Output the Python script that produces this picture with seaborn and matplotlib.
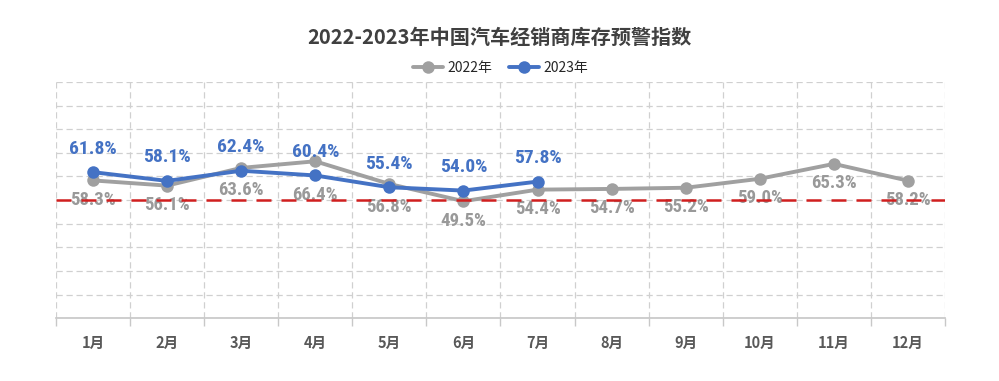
import pandas as pd
import matplotlib.pyplot as plt
import seaborn as sns
from matplotlib import font_manager

months = ["1月", "2月", "3月", "4月", "5月", "6月", "7月", "8月", "9月", "10月", "11月", "12月"]
values_2022 = [58.3, 56.1, 63.6, 66.4, 56.8, 49.5, 54.4, 54.7, 55.2, 59.0, 65.3, 58.2]
values_2023 = [61.8, 58.1, 62.4, 60.4, 55.4, 54.0, 57.8]
warning_line = 50

sns.set_theme(style="white")
plt.rcParams["font.family"] = ["Noto Sans CJK SC", "DejaVu Sans"]

# narrow font for the value labels, if one is around
names = {f.name for f in font_manager.fontManager.ttflist}
narrow = [n for n in ["Liberation Sans Narrow", "DejaVu Sans Condensed", "Roboto Condensed"] if n in names]
label_family = narrow[0] if narrow else "DejaVu Sans"

df = pd.concat([
    pd.DataFrame({"month": months, "value": values_2022, "year": "2022年"}),
    pd.DataFrame({"month": months[:len(values_2023)], "value": values_2023, "year": "2023年"}),
])
palette = {"2022年": "#a0a0a0", "2023年": "#4472c4"}

fig = plt.figure(figsize=(9.99, 3.81), dpi=100)
ax = fig.add_axes([0.056, 0.165, 0.89, 0.62])

sns.lineplot(data=df, x="month", y="value", hue="year", palette=palette,
             marker="o", markersize=9, markeredgewidth=0, linewidth=2.8,
             sort=False, ax=ax)

ax.set_xlim(-0.5, 11.5)
ax.set_ylim(0, 100)
ax.set_yticks(range(0, 101, 10))
ax.set_yticklabels([])
ax.tick_params(axis="y", length=0)
ax.set_xticks([i - 0.5 for i in range(13)], minor=True)
ax.grid(True, which="minor", axis="x", color="#d0d0d0", linestyle=(0, (5, 3)), linewidth=0.9)
ax.grid(True, which="major", axis="y", color="#d0d0d0", linestyle=(0, (5, 3)), linewidth=0.9)
ax.tick_params(axis="x", which="major", length=0, pad=12, labelsize=10.5, labelcolor="#595959")
ax.tick_params(axis="x", which="minor", length=6, color="#c8c8c8", width=1, bottom=True)
for lbl in ax.get_xticklabels():
    lbl.set_fontweight("bold")
for s in ["top", "right", "left"]:
    ax.spines[s].set_visible(False)
ax.spines["bottom"].set_color("#c8c8c8")
ax.set_xlabel("")
ax.set_ylabel("")

# warning line sits on top of everything
ax.axhline(warning_line, color="#d01f1f", linestyle=(0, (6, 4)), linewidth=1.8, zorder=5)

for i, v in enumerate(values_2022):
    # 2022 label goes under the lower of the two points
    low = min(v, values_2023[i]) if i < len(values_2023) else v
    ax.annotate(f"{v:.1f}%", (i, low), xytext=(0, -14), textcoords="offset points",
                ha="center", va="center", fontsize=13.5, fontweight="bold",
                fontstretch="condensed", color="#999999", family=label_family)
for i, v in enumerate(values_2023):
    ax.annotate(f"{v:.1f}%", (i, v), xytext=(0, 17), textcoords="offset points",
                ha="center", va="center", fontsize=14, fontweight="bold",
                fontstretch="condensed", color="#4472c4", family=label_family)

ax.legend(loc="lower center", bbox_to_anchor=(0.5, 0.975), ncol=2, frameon=False,
          fontsize=10, handlelength=2.2, columnspacing=1.2, handletextpad=0.3)

fig.suptitle("2022-2023年中国汽车经销商库存预警指数", y=0.93, fontsize=14.5,
             fontweight="bold", color="#404040")

fig.savefig("out.png", dpi=100)
